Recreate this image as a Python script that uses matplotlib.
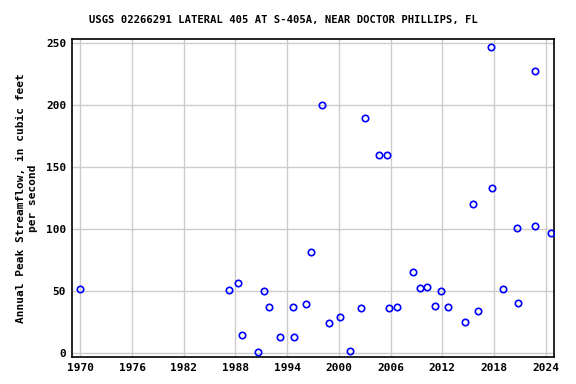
import matplotlib
matplotlib.use("Agg")
import matplotlib.pyplot as plt

# peak streamflow data (water year, cfs)
years = [1970.0, 1987.2, 1988.3, 1988.8, 1990.6, 1991.35, 1991.9, 1993.2, 1994.7, 1994.8,
         1996.2, 1996.8, 1998.0, 1998.8, 2000.1, 2001.3, 2002.6, 2003.0, 2004.7, 2005.6,
         2005.8, 2006.8, 2008.6, 2009.4, 2010.2, 2011.2, 2011.8, 2012.7, 2014.6, 2015.6,
         2016.1, 2017.7, 2017.8, 2019.0, 2020.7, 2020.8, 2022.8, 2022.8, 2024.6]
peaks = [52, 51, 57, 14.5, 1.1, 50, 37, 13, 37, 13,
         40, 81.5, 200, 24.5, 29, 1.6, 36.6, 189.5, 159.7, 159.7,
         36.6, 37, 65.3, 52.7, 53.2, 38, 50, 37, 25, 120.2,
         34, 246.8, 133, 51.6, 100.8, 40.3, 227.4, 102.4, 96.8]
xticks = [1970, 1976, 1982, 1988, 1994, 2000, 2006, 2012, 2018, 2024]
yticks = [0, 50, 100, 150, 200, 250]

plt.rcParams['font.family'] = ['DejaVu Sans Mono']
plt.rcParams['font.weight'] = 'bold'

fig = plt.figure(figsize=(5.76, 3.84), dpi=100)
ax = fig.add_axes([0.1245, 0.0695, 0.8378, 0.8282])

ax.plot(years, peaks, 'o', mfc='none', mec='#0000ff', mew=1.2, ms=4.6, zorder=3)

ax.set_xlim(1969, 2025)
ax.set_ylim(-3.2, 253.2)
ax.set_xticks(xticks)
ax.set_yticks(yticks)
ax.grid(True, color='#cccccc', lw=1)
ax.set_axisbelow(True)
ax.tick_params(length=0, pad=4, labelsize=8)
for s in ax.spines.values():
    s.set_linewidth(1.2)

fig.text(283 / 576, 1 - 20 / 384,
         'USGS 02266291 LATERAL 405 AT S-405A, NEAR DOCTOR PHILLIPS, FL',
         fontsize=7.6, fontweight='bold', ha='center', va='center')
ax.set_ylabel('Annual Peak Streamflow, in cubic feet\nper second', fontsize=8,
              fontweight='bold', labelpad=6)

fig.savefig('out.png', dpi=100)
